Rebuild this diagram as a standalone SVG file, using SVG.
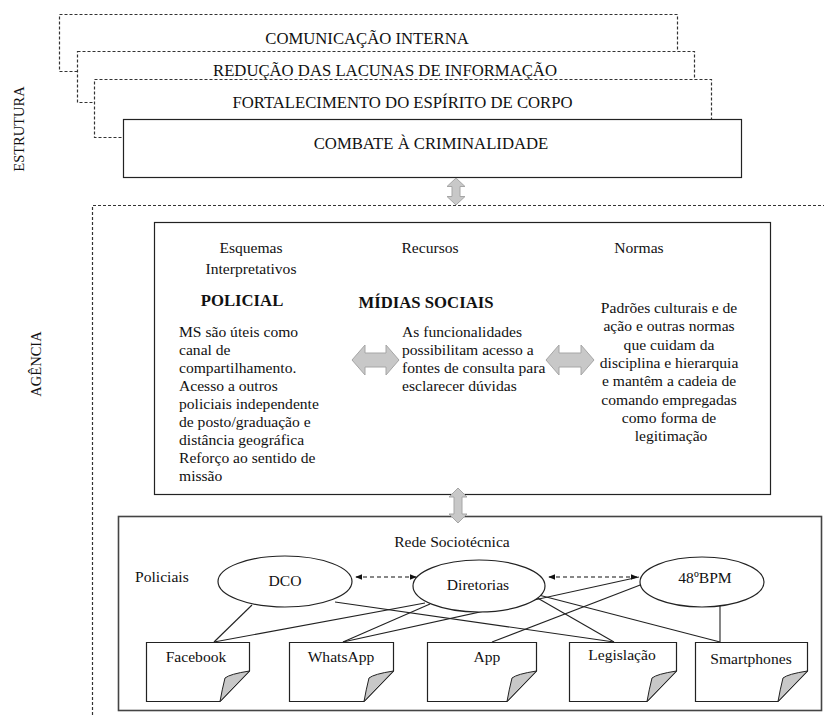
<svg xmlns="http://www.w3.org/2000/svg" width="824" height="715" viewBox="0 0 824 715" font-family="'Liberation Serif', Tinos, 'DejaVu Serif', serif">
<defs>
<style>
text{font-family:'Liberation Serif', Tinos, 'DejaVu Serif', serif;fill:#111;}
.top{font-size:16.7px;text-anchor:middle;}
.t{font-size:15.6px;}
.c{text-anchor:middle;}
.b{font-weight:bold;font-size:16.7px;}
.dash{fill:#fff;stroke:#333;stroke-width:1.2;stroke-dasharray:3,2;}
.solid{fill:#fff;stroke:#222;stroke-width:1.2;}
.blk{fill:#c8c8c8;stroke:#a6a6a6;stroke-width:1;}
.ln{stroke:#222;stroke-width:1.1;fill:none;}
.ell{fill:#fff;stroke:#222;stroke-width:1.2;}
.note{fill:#fff;stroke:#222;stroke-width:1.2;}
.fold{fill:#c8c8c8;stroke:#222;stroke-width:1;}
</style>
<marker id="ah" viewBox="0 0 10 10" refX="9" refY="5" markerWidth="6" markerHeight="6" orient="auto-start-reverse">
<path d="M0,1 L10,5 L0,9 Z" fill="#111"/>
</marker>
</defs>
<rect width="824" height="715" fill="#fff"/>

<text x="24" y="129" class="t c" font-family="'Liberation Serif', serif" transform="rotate(-90 24 129)" style="font-size:14.5px">ESTRUTURA</text>
<text x="41" y="364" class="t c" font-family="'Liberation Serif', serif" transform="rotate(-90 41 364)" style="font-size:14.5px">AGÊNCIA</text>

<g id="box-comunicacao">
<rect x="59.5" y="14.5" width="618" height="57" class="dash"/>
<text x="367" y="44" class="top">COMUNICAÇÃO INTERNA</text>
</g>
<g id="box-reducao">
<rect x="77.5" y="51.5" width="617" height="51" class="dash"/>
<text x="385" y="76" class="top">REDUÇÃO DAS LACUNAS DE INFORMAÇÃO</text>
</g>
<g id="box-fortalecimento">
<rect x="94.5" y="79.5" width="617" height="58" class="dash"/>
<text x="402.5" y="108" class="top">FORTALECIMENTO DO ESPÍRITO DE CORPO</text>
</g>
<g id="box-combate">
<rect x="123.5" y="119.5" width="618" height="58" class="solid"/>
<text x="431" y="149" class="top">COMBATE À CRIMINALIDADE</text>
</g>

<g id="agencia-frame">
<path d="M92.5,715 V205.5 H824" fill="none" stroke="#333" stroke-width="1.2" stroke-dasharray="3,2"/>
</g>

<g id="agencia-box">
<rect x="154.5" y="222.5" width="616" height="272" class="solid"/>
<text x="251" y="253" class="t c">Esquemas</text>
<text x="251" y="274" class="t c">Interpretativos</text>
<text x="430" y="253" class="t c">Recursos</text>
<text x="639" y="253" class="t c">Normas</text>
<text x="242" y="306" class="b c">POLICIAL</text>
<text x="426" y="308" class="b c">MÍDIAS SOCIAIS</text>
<text class="t">
<tspan x="179" y="337">MS são úteis como</tspan>
<tspan x="179" y="355">canal de</tspan>
<tspan x="179" y="373">compartilhamento.</tspan>
<tspan x="179" y="391">Acesso a outros</tspan>
<tspan x="179" y="409">policiais independente</tspan>
<tspan x="179" y="427">de posto/graduação e</tspan>
<tspan x="179" y="445">distância geográfica</tspan>
<tspan x="179" y="463">Reforço ao sentido de</tspan>
<tspan x="179" y="481">missão</tspan>
</text>
<text class="t">
<tspan x="402" y="337">As funcionalidades</tspan>
<tspan x="402" y="355">possibilitam acesso a</tspan>
<tspan x="402" y="373">fontes de consulta para</tspan>
<tspan x="402" y="391">esclarecer dúvidas</tspan>
</text>
<text class="t c">
<tspan x="671" y="313">Padrões culturais  e de</tspan>
<tspan x="671" y="331">ação e outras normas</tspan>
<tspan x="671" y="350">que cuidam da</tspan>
<tspan x="671" y="368">disciplina e hierarquia</tspan>
<tspan x="671" y="386">e mantêm a cadeia de</tspan>
<tspan x="671" y="405">comando empregadas</tspan>
<tspan x="671" y="423">como forma de</tspan>
<tspan x="671" y="441">legitimação</tspan>
</text>
</g>

<g id="rede-box">
<rect x="118.5" y="516.5" width="703" height="194" fill="#fff" stroke="#444" stroke-width="1.6"/>
<text x="452" y="547" class="t c">Rede Sociotécnica</text>
<text x="135" y="582" class="t">Policiais</text>
</g>

<g id="connectors">
<path class="blk" d="M456,178 L465,186.5 L460,186.5 L460,196.5 L465,196.5 L456,205 L447,196.5 L452,196.5 L452,186.5 L447,186.5 Z"/>
<path class="blk" d="M458,488 L467,497 L462,497 L462,514 L467,514 L458,523 L449,514 L454,514 L454,497 L449,497 Z"/>
<path class="blk" d="M352,360 L365,345 L365,353 L386,353 L386,345 L399,360 L386,375 L386,367 L365,367 L365,375 Z"/>
<path class="blk" d="M546,360 L559,345 L559,353 L581,353 L581,345 L594,360 L581,375 L581,367 L559,367 L559,375 Z"/>
<line class="ln" x1="252" y1="605" x2="214" y2="642"/>
<line class="ln" x1="425" y1="603" x2="214" y2="642"/>
<line class="ln" x1="430" y1="604" x2="343" y2="642"/>
<line class="ln" x1="639" y1="577" x2="343" y2="642"/>
<line class="ln" x1="648" y1="582" x2="492" y2="642"/>
<line class="ln" x1="335" y1="602" x2="614" y2="642"/>
<line class="ln" x1="527" y1="592" x2="614" y2="642"/>
<line class="ln" x1="527" y1="592" x2="720" y2="642"/>
<line class="ln" x1="720" y1="606" x2="720" y2="642"/>
</g>

<g id="node-dco">
<ellipse cx="285" cy="581.5" rx="67" ry="25.5" class="ell"/>
<text x="285" y="586" class="t c">DCO</text>
</g>
<g id="node-diretorias">
<ellipse cx="479" cy="586" rx="66" ry="26" class="ell"/>
<text x="478" y="590" class="t c">Diretorias</text>
</g>
<g id="node-48bpm">
<ellipse cx="702" cy="582" rx="62" ry="25" class="ell"/>
<text x="705" y="583" class="t c">48ºBPM</text>
</g>

<g id="dashed-links">
<line x1="356" y1="577" x2="416" y2="577" stroke="#111" stroke-width="1.2" stroke-dasharray="4,3" marker-start="url(#ah)" marker-end="url(#ah)"/>
<line x1="549" y1="577" x2="637" y2="577" stroke="#111" stroke-width="1.2" stroke-dasharray="4,3" marker-start="url(#ah)" marker-end="url(#ah)"/>
</g>

<g id="note-facebook">
<path class="note" d="M146.5,642.5 H249.5 V671 L220,701.5 H146.5 Z"/>
<path class="fold" d="M249.5,671 Q230,674 225,678 Q222,690 220,701.5 Z"/>
<text x="196" y="662" class="t c">Facebook</text>
</g>
<g id="note-whatsapp">
<path class="note" d="M289.5,642.5 H393.5 V671 L364,701.5 H289.5 Z"/>
<path class="fold" d="M393.5,671 Q374,674 369,678 Q366,690 364,701.5 Z"/>
<text x="341" y="662" class="t c">WhatsApp</text>
</g>
<g id="note-app">
<path class="note" d="M427.5,642.5 H536.5 V671 L507,701.5 H427.5 Z"/>
<path class="fold" d="M536.5,671 Q517,674 512,678 Q509,690 507,701.5 Z"/>
<text x="487" y="662" class="t c">App</text>
</g>
<g id="note-legislacao">
<path class="note" d="M569.5,642.5 H676.5 V671 L647,701.5 H569.5 Z"/>
<path class="fold" d="M676.5,671 Q657,674 652,678 Q649,690 647,701.5 Z"/>
<text x="622" y="660" class="t c">Legislação</text>
</g>
<g id="note-smartphones">
<path class="note" d="M695.5,642.5 H807.5 V671 L778,701.5 H695.5 Z"/>
<path class="fold" d="M807.5,671 Q788,674 783,678 Q780,690 778,701.5 Z"/>
<text x="751" y="664" class="t c">Smartphones</text>
</g>
</svg>
